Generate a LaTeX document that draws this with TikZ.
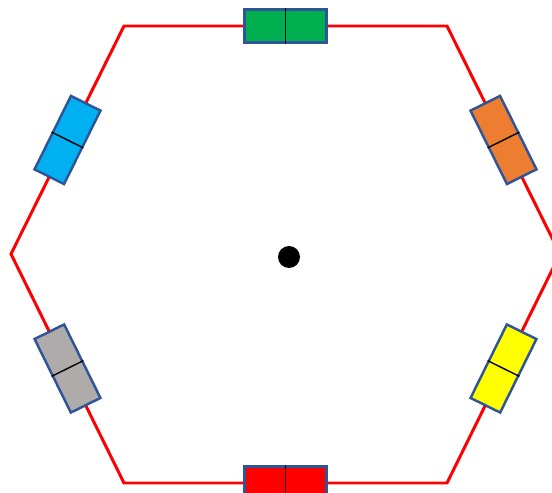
\documentclass[tikz,border=0pt]{standalone}
\usepackage{xcolor}
\usepackage{tikz}
\usetikzlibrary{positioning}
\definecolor{rimred}{RGB}{255, 0, 0}
\definecolor{cellborder}{RGB}{47, 85, 151}
\definecolor{cgreen}{RGB}{0, 176, 80}
\definecolor{cblue}{RGB}{0, 176, 240}
\definecolor{corange}{RGB}{237, 125, 49}
\definecolor{cgray}{RGB}{175, 171, 171}
\definecolor{cyellow}{RGB}{255, 255, 0}
\definecolor{cred}{RGB}{255, 0, 0}

\begin{document}
\begin{tikzpicture}[
    x=0.02cm, y=-0.02cm,
    rim/.style={draw=rimred, line width=1.7pt},
    cell/.style={rectangle, draw=cellborder, line width=1.4pt, sloped,
        minimum width=1.64cm, minimum height=0.66cm, inner sep=0pt},
]
    \useasboundingbox (0,0) rectangle (552,493);
    \clip (0,0) rectangle (552,493);
    % hexagon corners
    \coordinate (tl) at (124,26);
    \coordinate (tr) at (447,26);
    \coordinate (rt) at (560,254);
    \coordinate (br) at (447,483);
    \coordinate (bl) at (124,483);
    \coordinate (lt) at (11,254);
    \draw[rim] (tl) -- (tr) -- (rt) -- (br) -- (bl) -- (lt) -- cycle;
    % cells on the sides
    \path (tl) -- (tr) node[cell, fill=cgreen, midway] (green) {};
    \path (tr) -- (rt) node[cell, fill=corange, midway] (orange) {};
    \path (rt) -- (br) node[cell, fill=cyellow, midway] (yellow) {};
    \path (br) -- (bl) node[cell, fill=cred, midway] (red) {};
    \path (bl) -- (lt) node[cell, fill=cgray, midway] (gray) {};
    \path (lt) -- (tl) node[cell, fill=cblue, midway] (blue) {};
    \foreach \c in {green, orange, yellow, red, gray, blue} {
        \draw[line width=0.8pt] (\c.north) -- (\c.south);
    }
    % centre
    \node[circle, fill=black, minimum size=0.44cm, inner sep=0pt] (centre) at (289,257) {};
\end{tikzpicture}
\end{document}
